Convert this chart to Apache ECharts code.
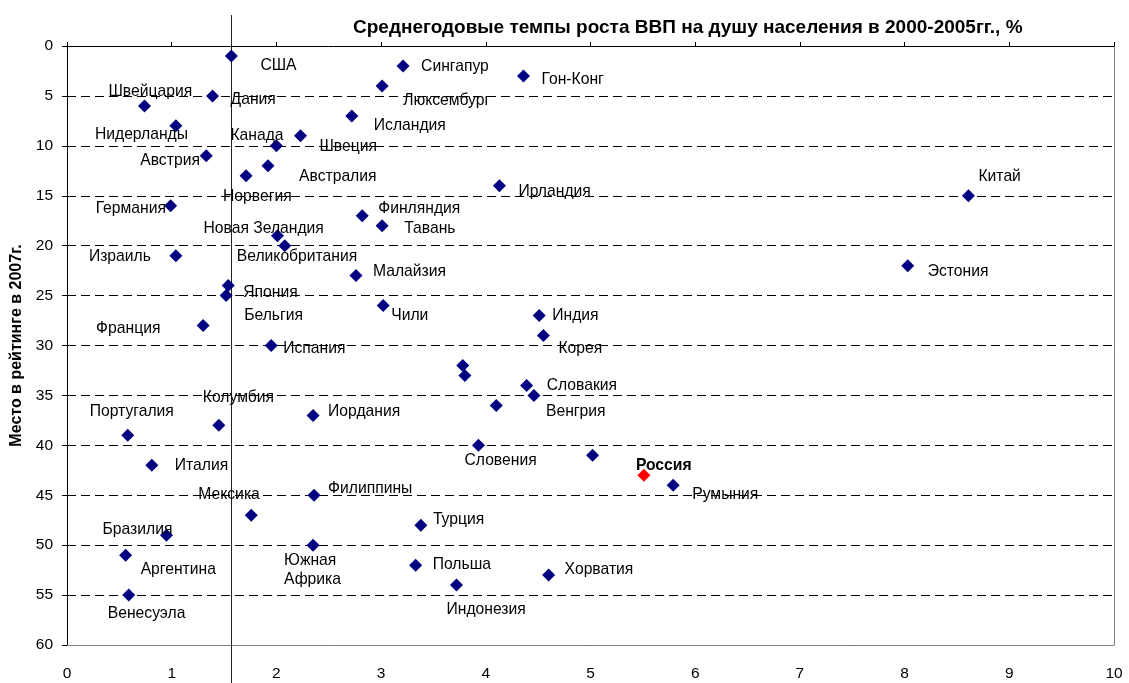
<!DOCTYPE html>
<html>
<head>
<meta charset="utf-8">
<script src="https://cdn.jsdelivr.net/npm/echarts@6/dist/echarts.min.js"></script>
<style>
  html, body { margin: 0; padding: 0; background: #fff; }
  #chart { width: 1129px; height: 683px; }
</style>
</head>
<body>
<div id="chart"></div>
<script>
// страны, отсортированные по месту в рейтинге
const countries = ['США', 'Сингапур', 'Гон-Конг', 'Люксембург', 'Дания', 'Швейцария', 'Исландия',
  'Нидерланды', 'Швеция', 'Канада', 'Австрия', 'Австралия', 'Норвегия', 'Ирландия', 'Китай',
  'Германия', 'Финляндия', 'Тавань', 'Новая Зеландия', 'Великобритания', 'Израиль', 'Эстония',
  'Малайзия', 'Япония', 'Бельгия', 'Чили', 'Индия', 'Франция', 'Корея', 'Испания', '', '',
  'Словакия', 'Венгрия', '', 'Иордания', 'Колумбия', 'Португалия', 'Словения', '', 'Италия',
  'Россия', 'Румыния', 'Филиппины', 'Мексика', 'Турция', 'Бразилия', 'Южная\nАфрика',
  'Аргентина', 'Польша', 'Хорватия', 'Индонезия', 'Венесуэла'];
// среднегодовой рост ВВП на душу, %
const growth = [1.57, 3.21, 4.36, 3.01, 1.39, 0.74, 2.72,
  1.04, 2.23, 2.0, 1.33, 1.92, 1.71, 4.13, 8.61,
  0.99, 2.82, 3.01, 2.01, 2.08, 1.04, 8.03,
  2.76, 1.54, 1.52, 3.02, 4.51, 1.30, 4.55, 1.95, 3.78, 3.80,
  4.39, 4.46, 4.10, 2.35, 1.45, 0.58, 3.93, 5.02, 0.81,
  5.51, 5.79, 2.36, 1.76, 3.38, 0.95, 2.35,
  0.56, 3.33, 4.60, 3.72, 0.59];
// место в рейтинге 2007
const rank = [1, 2, 3, 4, 5, 6, 7,
  8, 9, 10, 11, 12, 13, 14, 15,
  16, 17, 18, 19, 20, 21, 22,
  23, 24, 25, 26, 27, 28, 29, 30, 32, 33,
  34, 35, 36, 37, 38, 39, 40, 41, 42,
  43, 44, 45, 47, 48, 49, 50,
  51, 52, 53, 54, 55];
const xTicks = { min: 0, max: 10, interval: 1 };
const yTicks = { min: 0, max: 60, interval: 5 };
const dividerX = 1.565;
const highlight = 'Россия';

// смещения подписей относительно точки (px)
const labelOffsets = {
  'США': [29, 10], 'Сингапур': [18, 1], 'Гон-Конг': [18, 4], 'Люксембург': [21, 15],
  'Дания': [18, 4], 'Швейцария': [-36, -14], 'Исландия': [22, 10], 'Нидерланды': [-81, 9],
  'Швеция': [19, 11], 'Канада': [-46, -10], 'Австрия': [-66, 5], 'Австралия': [31, 11],
  'Норвегия': [-23, 21], 'Ирландия': [19, 6], 'Китай': [10, -19], 'Германия': [-75, 3],
  'Финляндия': [16, -7], 'Тавань': [22, 3], 'Новая Зеландия': [-74, -7],
  'Великобритания': [-48, 11], 'Израиль': [-87, 1], 'Эстония': [20, 6], 'Малайзия': [17, -4],
  'Япония': [15, 7], 'Бельгия': [18, 20], 'Чили': [8, 10], 'Индия': [13, 0],
  'Франция': [-107, 3], 'Корея': [15, 13], 'Испания': [12, 3], 'Словакия': [20, 0],
  'Венгрия': [12, 16], 'Иордания': [15, -4], 'Колумбия': [-16, -28], 'Португалия': [-38, -24],
  'Словения': [-14, 15], 'Италия': [23, 0], 'Россия': [-8, -10], 'Румыния': [19, 9],
  'Филиппины': [14, -7], 'Мексика': [-53, -21], 'Турция': [12, -6], 'Бразилия': [-64, -6],
  'Южная\nАфрика': [-29, 25], 'Аргентина': [15, 15], 'Польша': [17, 0], 'Хорватия': [16, -5],
  'Индонезия': [-10, 25], 'Венесуэла': [-21, 19]
};

const FONT = '"Liberation Sans", Arial, sans-serif';

const points = countries.map((name, i) => {
  const isHi = name === highlight;
  return {
    name: name,
    value: [growth[i], rank[i]],
    itemStyle: { color: isHi ? '#ff0000' : '#000080', opacity: 1 },
    label: {
      show: name !== '',
      offset: labelOffsets[name] || [0, 0],
      fontWeight: isHi ? 'bold' : 'normal'
    }
  };
});

const chart = echarts.init(document.getElementById('chart'));
chart.setOption({
  animation: false,
  backgroundColor: '#fff',
  title: {
    text: 'Среднегодовые темпы роста ВВП на душу населения в 2000-2005гг., %',
    left: 348,
    top: 13,
    textStyle: { fontFamily: FONT, fontSize: 19, fontWeight: 'bold', color: '#000' }
  },
  grid: { left: 67, right: 15, top: 46, bottom: 38, outerBoundsMode: 'none' },
  xAxis: [
    {
      type: 'value', position: 'bottom',
      min: xTicks.min, max: xTicks.max, interval: xTicks.interval,
      axisLine: { show: true, onZero: false, lineStyle: { color: '#808080', width: 1 } },
      axisTick: { show: false },
      axisLabel: { fontFamily: FONT, fontSize: 15.5, color: '#000', margin: 21 },
      splitLine: { show: false }
    },
    {
      type: 'value', position: 'top',
      min: xTicks.min, max: xTicks.max, interval: xTicks.interval,
      axisLine: { show: true, onZero: false, lineStyle: { color: '#000', width: 1 } },
      axisTick: { show: true, length: 4, lineStyle: { color: '#000' } },
      axisLabel: { show: false },
      splitLine: { show: false }
    }
  ],
  yAxis: [
    {
      type: 'value', inverse: true,
      min: yTicks.min, max: yTicks.max, interval: yTicks.interval,
      name: 'Место в рейтинге в 2007г.',
      nameLocation: 'middle', nameGap: 41, nameRotate: 90,
      nameTextStyle: { fontFamily: FONT, fontSize: 16, fontWeight: 'bold', color: '#000' },
      axisLine: { show: true, onZero: false, lineStyle: { color: '#000', width: 1 } },
      axisTick: { show: true, length: 5, lineStyle: { color: '#000' } },
      axisLabel: { fontFamily: FONT, fontSize: 15.5, color: '#000', margin: 14 },
      splitLine: { show: true, lineStyle: { color: '#000', type: [9, 5], width: 1 } }
    },
    {
      type: 'value', inverse: true, position: 'right',
      min: yTicks.min, max: yTicks.max, interval: yTicks.interval,
      axisLine: { show: true, onZero: false, lineStyle: { color: '#808080', width: 1 } },
      axisTick: { show: false },
      axisLabel: { show: false },
      splitLine: { show: false }
    }
  ],
  series: [
    {
      type: 'scatter',
      symbol: 'diamond',
      symbolSize: 13,
      data: points,
      label: {
        position: 'inside',
        align: 'left',
        verticalAlign: 'middle',
        formatter: '{b}',
        fontFamily: FONT,
        fontSize: 15.7,
        lineHeight: 19,
        color: '#000'
      },
      emphasis: { disabled: true }
    }
  ]
});

// вертикальная разделительная линия, выходящая за пределы области графика
const lineTop = chart.convertToPixel({ xAxisIndex: 0, yAxisIndex: 0 }, [dividerX, -3.1]);
const lineBottom = chart.convertToPixel({ xAxisIndex: 0, yAxisIndex: 0 }, [dividerX, 64]);
chart.setOption({
  graphic: [{
    type: 'line',
    shape: {
      x1: Math.round(lineTop[0]) + 0.5, y1: lineTop[1],
      x2: Math.round(lineBottom[0]) + 0.5, y2: lineBottom[1]
    },
    style: { stroke: '#222', lineWidth: 1 },
    z: 1
  }]
});
</script>
</body>
</html>
